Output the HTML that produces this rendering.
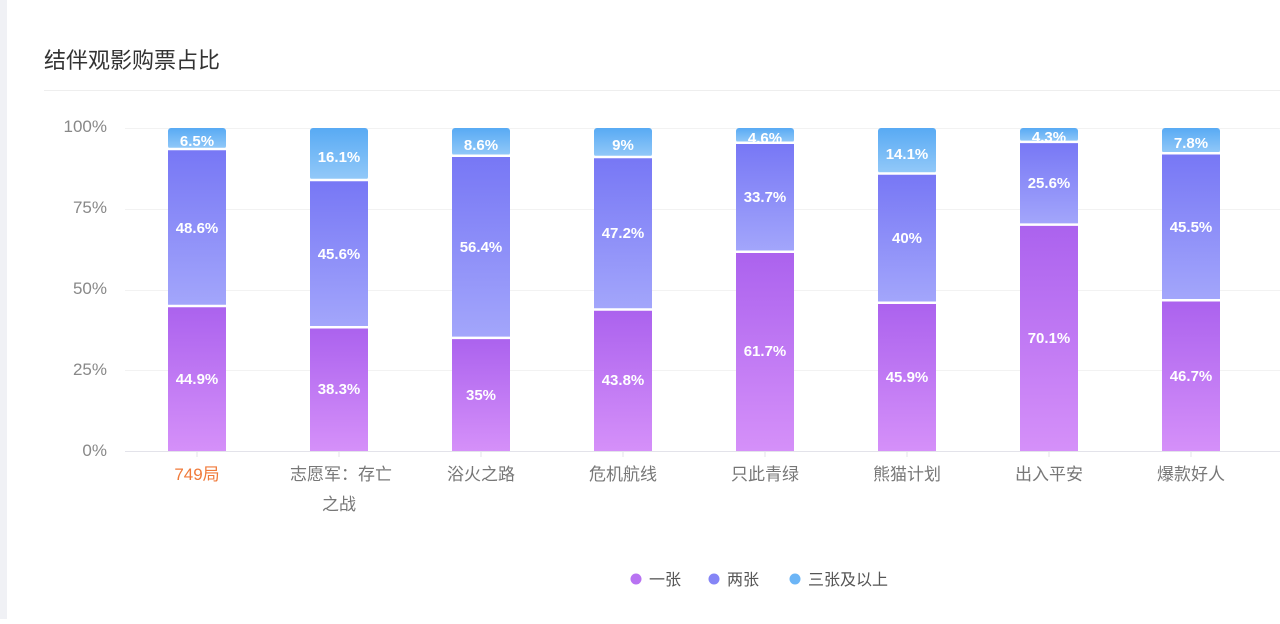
<!DOCTYPE html>
<html><head><meta charset="utf-8"><style>
body{margin:0;background:#fff;width:1280px;height:619px;overflow:hidden;font-family:"Liberation Sans","Noto Sans CJK SC",sans-serif}
</style></head><body>
<svg width="1280" height="619" xmlns="http://www.w3.org/2000/svg" font-family="Liberation Sans, Noto Sans CJK SC, sans-serif">
<defs>
<linearGradient id="ga" x1="0" y1="0" x2="0" y2="1"><stop offset="0" stop-color="#ab62ee"/><stop offset="1" stop-color="#d590f9"/></linearGradient>
<linearGradient id="gb" x1="0" y1="0" x2="0" y2="1"><stop offset="0" stop-color="#7777f5"/><stop offset="1" stop-color="#a3a6fb"/></linearGradient>
<linearGradient id="gc" x1="0" y1="0" x2="0" y2="1"><stop offset="0" stop-color="#58aaf4"/><stop offset="1" stop-color="#93c9f8"/></linearGradient>
</defs>
<rect x="0" y="0" width="7" height="619" fill="#f0f1f5"/>
<text x="44" y="68" font-size="22" fill="#333">结伴观影购票占比</text>
<line x1="44" y1="90.5" x2="1280" y2="90.5" stroke="#eeeeee"/>
<g stroke="#f2f2f2" stroke-width="1">
<line x1="125" y1="128.5" x2="1280" y2="128.5"/><line x1="125" y1="209.5" x2="1280" y2="209.5"/><line x1="125" y1="290.5" x2="1280" y2="290.5"/><line x1="125" y1="370.5" x2="1280" y2="370.5"/>
</g>
<line x1="125" y1="451.5" x2="1280" y2="451.5" stroke="#e3e3ea"/>
<g font-size="17" fill="#888" text-anchor="end">
<text x="107" y="132">100%</text><text x="107" y="213">75%</text><text x="107" y="294">50%</text><text x="107" y="375">25%</text><text x="107" y="456">0%</text>
</g>
<g>
<!-- bar1 -->
<rect x="168" y="128" width="58" height="21" rx="3" fill="url(#gc)"/><rect x="168" y="149" width="58" height="157" fill="url(#gb)"/><rect x="168" y="306" width="58" height="145" fill="url(#ga)"/>
<rect x="310" y="128" width="58" height="52" rx="3" fill="url(#gc)"/><rect x="310" y="180" width="58" height="147.3" fill="url(#gb)"/><rect x="310" y="327.3" width="58" height="123.7" fill="url(#ga)"/>
<rect x="452" y="128" width="58" height="27.7" rx="3" fill="url(#gc)"/><rect x="452" y="155.7" width="58" height="182.2" fill="url(#gb)"/><rect x="452" y="337.9" width="58" height="113.1" fill="url(#ga)"/>
<rect x="594" y="128" width="58" height="29" rx="3" fill="url(#gc)"/><rect x="594" y="157" width="58" height="152.5" fill="url(#gb)"/><rect x="594" y="309.5" width="58" height="141.5" fill="url(#ga)"/>
<rect x="736" y="128" width="58" height="14.8" rx="3" fill="url(#gc)"/><rect x="736" y="142.8" width="58" height="108.9" fill="url(#gb)"/><rect x="736" y="251.7" width="58" height="199.3" fill="url(#ga)"/>
<rect x="878" y="128" width="58" height="45.5" rx="3" fill="url(#gc)"/><rect x="878" y="173.5" width="58" height="129.2" fill="url(#gb)"/><rect x="878" y="302.7" width="58" height="148.3" fill="url(#ga)"/>
<rect x="1020" y="128" width="58" height="13.9" rx="3" fill="url(#gc)"/><rect x="1020" y="141.9" width="58" height="82.7" fill="url(#gb)"/><rect x="1020" y="224.6" width="58" height="226.4" fill="url(#ga)"/>
<rect x="1162" y="128" width="58" height="25.2" rx="3" fill="url(#gc)"/><rect x="1162" y="153.2" width="58" height="147" fill="url(#gb)"/><rect x="1162" y="300.2" width="58" height="150.8" fill="url(#ga)"/>
</g>
<g stroke="#fff" stroke-width="2.5">
<line x1="168" x2="226" y1="149" y2="149"/><line x1="168" x2="226" y1="306" y2="306"/>
<line x1="310" x2="368" y1="180" y2="180"/><line x1="310" x2="368" y1="327.3" y2="327.3"/>
<line x1="452" x2="510" y1="155.7" y2="155.7"/><line x1="452" x2="510" y1="337.9" y2="337.9"/>
<line x1="594" x2="652" y1="157" y2="157"/><line x1="594" x2="652" y1="309.5" y2="309.5"/>
<line x1="736" x2="794" y1="142.8" y2="142.8"/><line x1="736" x2="794" y1="251.7" y2="251.7"/>
<line x1="878" x2="936" y1="173.5" y2="173.5"/><line x1="878" x2="936" y1="302.7" y2="302.7"/>
<line x1="1020" x2="1078" y1="141.9" y2="141.9"/><line x1="1020" x2="1078" y1="224.6" y2="224.6"/>
<line x1="1162" x2="1220" y1="153.2" y2="153.2"/><line x1="1162" x2="1220" y1="300.2" y2="300.2"/>
</g>
<g font-size="15" font-weight="bold" fill="#fff" text-anchor="middle">
<text x="197" y="146">6.5%</text><text x="197" y="233">48.6%</text><text x="197" y="384">44.9%</text>
<text x="339" y="162">16.1%</text><text x="339" y="259">45.6%</text><text x="339" y="394">38.3%</text>
<text x="481" y="150">8.6%</text><text x="481" y="252">56.4%</text><text x="481" y="400">35%</text>
<text x="623" y="150">9%</text><text x="623" y="238">47.2%</text><text x="623" y="385">43.8%</text>
<text x="765" y="143">4.6%</text><text x="765" y="202">33.7%</text><text x="765" y="356">61.7%</text>
<text x="907" y="159">14.1%</text><text x="907" y="243">40%</text><text x="907" y="382">45.9%</text>
<text x="1049" y="142">4.3%</text><text x="1049" y="188">25.6%</text><text x="1049" y="343">70.1%</text>
<text x="1191" y="148">7.8%</text><text x="1191" y="232">45.5%</text><text x="1191" y="381">46.7%</text>
</g>
<g stroke="#e3e3ea"><line x1="197" x2="197" y1="451" y2="457"/><line x1="339" x2="339" y1="451" y2="457"/><line x1="481" x2="481" y1="451" y2="457"/><line x1="623" x2="623" y1="451" y2="457"/><line x1="765" x2="765" y1="451" y2="457"/><line x1="907" x2="907" y1="451" y2="457"/><line x1="1049" x2="1049" y1="451" y2="457"/><line x1="1191" x2="1191" y1="451" y2="457"/></g>
<g font-size="17" fill="#777" text-anchor="middle">
<text x="197" y="480" fill="#f07a3a">749局</text>
<text x="341" y="480">志愿军：存亡</text><text x="339" y="510">之战</text>
<text x="481" y="480">浴火之路</text><text x="623" y="480">危机航线</text><text x="765" y="480">只此青绿</text><text x="907" y="480">熊猫计划</text><text x="1049" y="480">出入平安</text><text x="1191" y="480">爆款好人</text>
</g>
<g font-size="16" fill="#555">
<circle cx="636" cy="579" r="5.5" fill="#b873f2"/><text x="649" y="585">一张</text>
<circle cx="714" cy="579" r="5.5" fill="#8585f6"/><text x="727" y="585">两张</text>
<circle cx="795" cy="579" r="5.5" fill="#6cb5f6"/><text x="808" y="585">三张及以上</text>
</g>
</svg>
</body></html>
